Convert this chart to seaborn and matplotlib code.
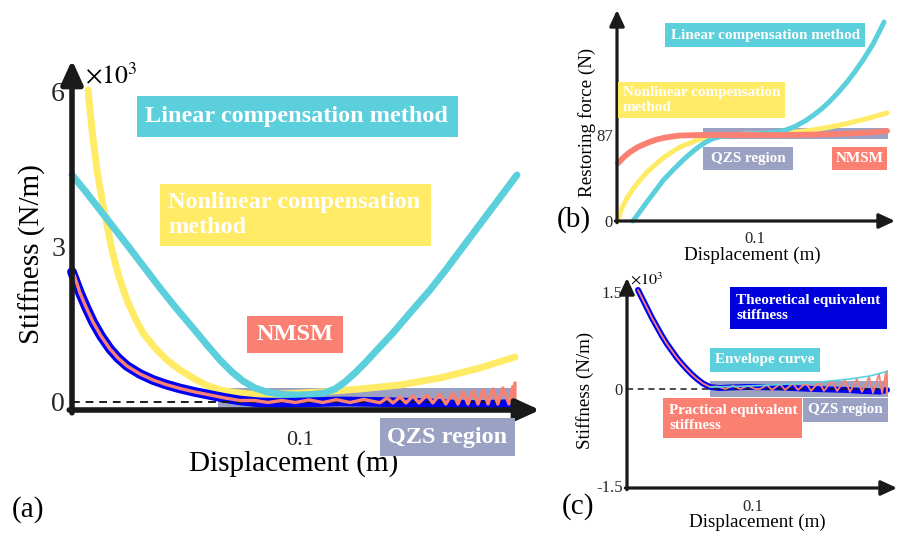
import matplotlib
matplotlib.use("Agg")
import matplotlib.pyplot as plt
import seaborn as sns
from matplotlib.patches import Rectangle

# ---------------- Panel (a): stiffness (x1e3 N/m) vs displacement (m)
a_lin_x = [0.0, 0.00614, 0.01228, 0.01842, 0.02456, 0.03158, 0.03860, 0.04561, 0.05307, 0.05921,
           0.06491, 0.07018, 0.07500, 0.08026, 0.08553, 0.09211, 0.09868, 0.10526, 0.11053,
           0.11535, 0.11974, 0.12412, 0.12851, 0.13421, 0.14079, 0.14825, 0.15702, 0.16360,
           0.17018, 0.17675, 0.18333, 0.18991, 0.19518]
a_lin_y = [4.391, 4.062, 3.714, 3.366, 3.017, 2.611, 2.205, 1.818, 1.431, 1.103,
           0.812, 0.580, 0.406, 0.271, 0.193, 0.145, 0.135, 0.145, 0.174,
           0.251, 0.387, 0.561, 0.754, 1.025, 1.335, 1.721, 2.166, 2.534,
           2.921, 3.308, 3.694, 4.081, 4.391]

a_nonlin_x = [0.00702, 0.00877, 0.01096, 0.01360, 0.01754, 0.02061, 0.02412, 0.02763, 0.03114,
              0.03640, 0.04167, 0.04737, 0.05307, 0.05877, 0.06491, 0.07149, 0.07807, 0.09123,
              0.10877, 0.12632, 0.14386, 0.16140, 0.17895, 0.19430]
a_nonlin_y = [6.035, 5.261, 4.487, 3.810, 2.940, 2.418, 1.973, 1.625, 1.335,
              1.044, 0.812, 0.619, 0.464, 0.329, 0.232, 0.184, 0.155, 0.155,
              0.193, 0.251, 0.329, 0.464, 0.658, 0.870]

a_theo_x = [0.0, 0.00351, 0.00614, 0.00921, 0.01272, 0.01667, 0.02018, 0.02412, 0.02982,
            0.03553, 0.04123, 0.04737, 0.05395, 0.06053, 0.06711, 0.07368, 0.08246, 0.09123,
            0.1, 0.11754, 0.13509, 0.15263, 0.16579, 0.17895, 0.1943]
a_theo_y = [2.515, 2.108, 1.838, 1.547, 1.277, 1.025, 0.851, 0.696, 0.542,
            0.426, 0.338, 0.261, 0.193, 0.135, 0.077, 0.029, -0.010, -0.019,
            -0.010, 0.010, 0.0, -0.019, -0.048, -0.058, -0.039]

a_prac_x = [0.001, 0.00351, 0.00614, 0.00921, 0.01272, 0.01667, 0.02018, 0.02412, 0.02982,
            0.03553, 0.04123, 0.04737, 0.05395, 0.06053, 0.06711, 0.07368,
            0.080, 0.086, 0.092, 0.098, 0.104, 0.110, 0.116, 0.122, 0.128, 0.1351,
            0.1382, 0.1408, 0.1439, 0.1465, 0.1496, 0.1522, 0.1557, 0.1583, 0.1614, 0.1640,
            0.1671, 0.1693, 0.1715, 0.1737, 0.1759, 0.1781, 0.1803, 0.1825, 0.1846, 0.1868,
            0.1890, 0.1917, 0.1934, 0.1943, 0.1943]
a_prac_y = [2.45, 2.108, 1.838, 1.547, 1.277, 1.025, 0.851, 0.696, 0.542,
            0.426, 0.338, 0.261, 0.193, 0.135, 0.077, 0.029,
            0.03, -0.01, 0.03, -0.01, 0.04, -0.01, 0.045, -0.01, 0.05, -0.015,
            0.077, -0.019, 0.097, -0.019, 0.116, -0.019, 0.135, -0.019, 0.155, -0.039,
            0.174, -0.039, 0.193, -0.039, 0.213, -0.039, 0.232, -0.039, 0.251, -0.039,
            0.271, -0.039, 0.30, -0.039, 0.368]

# ---------------- Panel (b): restoring force (N) vs displacement (m)
b_nmsm_x = [0.00072, 0.00507, 0.00942, 0.01522, 0.02174, 0.02754, 0.03333, 0.03986, 0.04565,
            0.06014, 0.07464, 0.11812, 0.1471, 0.16884, 0.18333, 0.19565]
b_nmsm_y = [58.67, 64.74, 69.80, 74.86, 78.91, 81.94, 83.97, 85.48, 86.49,
            87.0, 87.0, 87.0, 87.51, 88.52, 89.53, 91.05]

b_nonlin_x = [0.00072, 0.00217, 0.00435, 0.00725, 0.01159, 0.01667, 0.02174, 0.02754, 0.03333,
              0.03986, 0.04565, 0.0529, 0.05797, 0.06377, 0.06957, 0.08188, 0.0942, 0.11812,
              0.13261, 0.14203, 0.15435, 0.16667, 0.18116, 0.19565]
b_nonlin_y = [0.0, 8.09, 15.17, 23.27, 32.37, 41.48, 49.57, 56.65, 63.73,
              69.80, 74.86, 78.91, 81.94, 83.97, 85.99, 87.0, 88.01, 89.02,
              90.54, 92.06, 95.09, 98.63, 103.69, 109.26]

b_lin_x = [0.01159, 0.01667, 0.02246, 0.02826, 0.03333, 0.03986, 0.04565, 0.05145, 0.05797,
           0.06377, 0.06957, 0.07609, 0.08188, 0.09275, 0.1058, 0.11449, 0.12174, 0.12899,
           0.13623, 0.14203, 0.14855, 0.15435, 0.16014, 0.16667, 0.17246, 0.17826, 0.18551,
           0.19348]
b_lin_y = [0.0, 9.61, 20.74, 31.36, 40.97, 50.58, 58.67, 66.26, 73.85,
           79.41, 83.46, 85.69, 86.80, 87.81, 88.72, 89.73, 91.75, 95.60,
           101.16, 106.73, 113.81, 121.40, 130.00, 140.62, 151.24, 162.87, 179.06,
           201.31]

# ---------------- Panel (c): stiffness (x1e3 N/m) vs displacement (m)
c_theo_x = [0.00873, 0.0119, 0.01587, 0.01984, 0.02381, 0.02778, 0.03175, 0.03571, 0.03968,
            0.04365, 0.04762, 0.05159, 0.05556, 0.06032, 0.06587, 0.07381, 0.08175, 0.09524,
            0.12143, 0.14762, 0.1746, 0.1873, 0.20079, 0.20635]
c_theo_y = [1.531, 1.407, 1.253, 1.098, 0.959, 0.820, 0.696, 0.588, 0.479,
            0.387, 0.302, 0.224, 0.155, 0.085, 0.031, 0.015, 0.023, 0.031,
            0.023, 0.0, -0.015, -0.031, -0.039, -0.015]

c_env_x = [0.0659, 0.0976, 0.1294, 0.1532, 0.1770, 0.1929, 0.2063]
c_env_y = [0.03, 0.046, 0.077, 0.108, 0.155, 0.201, 0.270]

c_prac_x = [0.00873, 0.0119, 0.01587, 0.01984, 0.02381, 0.02778, 0.03175, 0.03571, 0.03968,
            0.04365, 0.04762, 0.05159, 0.05556, 0.06032, 0.06587,
            0.072, 0.078, 0.084, 0.090, 0.096, 0.1015,
            0.1056, 0.1111, 0.1151, 0.1214, 0.1254, 0.1317, 0.1357, 0.1421, 0.1460, 0.1524,
            0.1563, 0.1627, 0.1667, 0.1730, 0.1770, 0.1825, 0.1865, 0.1921, 0.1952, 0.2000,
            0.2024, 0.2056, 0.2063, 0.2063]
c_prac_y = [1.531, 1.407, 1.253, 1.098, 0.959, 0.820, 0.696, 0.588, 0.479,
            0.387, 0.302, 0.224, 0.155, 0.085, 0.031,
            0.04, 0.0, 0.05, 0.0, 0.05, 0.0,
            0.0, 0.062, -0.015, 0.077, -0.015, 0.085, -0.015, 0.093, -0.031, 0.108,
            -0.031, 0.124, -0.031, 0.139, -0.046, 0.155, -0.046, 0.186, -0.062, 0.232,
            -0.062, 0.263, -0.08, 0.28]

# ---------------- style
CYAN = "#5BCFDB"
YELLOW = "#FFEB66"
SALMON = "#FA8072"
BLUE = "#0000F5"
QZS = "#9BA1C3"
TBLUE = "#0000DD"

sns.set_theme(style="white")
plt.rcParams["font.family"] = ["Liberation Serif", "DejaVu Serif"]
plt.rcParams["mathtext.fontset"] = "stix"

W, H = 905, 533
fig = plt.figure(figsize=(W / 100, H / 100), dpi=100)


def add_ax(x0, y0, x1, y1):
    return fig.add_axes([x0 / W, 1 - y1 / H, (x1 - x0) / W, (y1 - y0) / H])


def box(x0, y0, x1, y1, color, text, size, align="center", pad=7):
    fig.add_artist(Rectangle((x0 / W, 1 - y1 / H), (x1 - x0) / W, (y1 - y0) / H,
                             transform=fig.transFigure, facecolor=color,
                             edgecolor="none", zorder=5))
    if align == "center":
        tx, ha = (x0 + x1) / 2, "center"
    else:
        tx, ha = x0 + pad, "left"
    fig.text(tx / W, 1 - ((y0 + y1) / 2) / H, text, ha=ha, va="center",
             color="white", fontsize=size, fontweight="bold", linespacing=1.28,
             zorder=6)


def ftext(x, y, s, size, rot=0, ha="center", va="center"):
    fig.text(x / W, 1 - y / H, s, fontsize=size, rotation=rot, ha=ha, va=va,
             color="black")


def arrows(ax, lw, ms, hl, hw, ex, ey):
    ap = dict(arrowstyle=f"-|>,head_length={hl},head_width={hw}", lw=lw,
              color="k", shrinkA=0, shrinkB=0, mutation_scale=ms)
    ax.annotate("", xy=(0, 1), xytext=(0, -ey), xycoords="axes fraction",
                arrowprops=ap, annotation_clip=False, zorder=20)
    ax.annotate("", xy=(1, 0), xytext=(-ex, 0), xycoords="axes fraction",
                arrowprops=ap, annotation_clip=False, zorder=20)


def clean(ax):
    for s in ax.spines.values():
        s.set_visible(False)
    ax.set_facecolor("none")
    ax.tick_params(length=0)
    ax.grid(False)


def line(ax, x, y, color, lw, z):
    sns.lineplot(x=x, y=y, ax=ax, color=color, linewidth=lw, sort=False,
                 estimator=None, legend=False, zorder=z, clip_on=False)


# ================= Panel (a)
axa = add_ax(72, 60, 540, 410)
clean(axa)
axa.set_xlim(0, 0.2053)
axa.set_ylim(-0.155, 6.615)
axa.add_patch(Rectangle((0.064, -0.116), 0.1303, 0.386, facecolor=QZS,
                        edgecolor="none", zorder=1))
line(axa, a_nonlin_x, a_nonlin_y, YELLOW, 5.0, 2)
line(axa, a_lin_x, a_lin_y, CYAN, 5.0, 3)
line(axa, a_theo_x, a_theo_y, BLUE, 7.0, 4)
axa.plot([0, 0.192], [0, 0], ls=(0, (4, 3)), color="k", lw=1.4, zorder=5)
line(axa, a_prac_x, a_prac_y, SALMON, 2.4, 6)
axa.set_xticks([0.1])
axa.set_xticklabels(["0.1"], fontsize=16)
axa.set_yticks([0, 3, 6])
axa.set_yticklabels(["0", "3", "6"], fontsize=20)
axa.tick_params(axis="x", pad=15)
axa.tick_params(axis="y", pad=5)
axa.set_xlabel("")
axa.set_ylabel("")
arrows(axa, 4.0, 26, 0.55, 0.25, 0.006, 0.008)

ftext(85, 76, r"$\times10^{3}$", 18.5, ha="left")
ftext(294, 464, "Displacement (m)", 21)
ftext(32, 254, "Stiffness (N/m)", 21, rot=90)
ftext(28, 510, "(a)", 21)

box(137, 96, 458, 137, CYAN, "Linear compensation method", 17.5, "left", 8)
box(160, 184, 431, 246, YELLOW, "Nonlinear compensation\nmethod", 17.5, "left", 8)
box(247, 316, 343, 353, SALMON, "NMSM", 17.5)
box(380, 418, 515, 456, QZS, "QZS region", 17.5)

# ================= Panel (b)
axb = add_ax(617, 10, 895, 221)
clean(axb)
axb.set_xlim(0, 0.2014)
axb.set_ylim(0, 213.5)
axb.add_patch(Rectangle((0.0623, 83.0), 0.1341, 11.1, facecolor=QZS,
                        edgecolor="none", zorder=1))
line(axb, b_nonlin_x, b_nonlin_y, YELLOW, 3.6, 2)
line(axb, b_lin_x, b_lin_y, CYAN, 3.6, 3)
line(axb, b_nmsm_x, b_nmsm_y, SALMON, 4.2, 4)
axb.set_xticks([0.1])
axb.set_xticklabels(["0.1"], fontsize=12)
axb.set_yticks([0, 87])
axb.set_yticklabels(["0", "87"], fontsize=12)
axb.tick_params(axis="x", pad=7)
axb.tick_params(axis="y", pad=3)
axb.set_xlabel("")
axb.set_ylabel("")
arrows(axb, 2.3, 16, 0.6, 0.28, 0.006, 0.008)

ftext(752, 255, "Displacement (m)", 13.7)
ftext(587, 122, "Restoring force (N)", 13.7, rot=90)
ftext(574, 220, "(b)", 21)

box(665, 23, 865, 47, CYAN, "Linear compensation method", 10.9, "left", 6)
box(618, 82, 785, 118, YELLOW, "Nonlinear compensation\nmethod", 10.9, "left", 5)
box(703, 147, 793, 170, QZS, "QZS region", 10.9)
box(832, 147, 887, 170, SALMON, "NMSM", 10.9)

# ================= Panel (c)
axc = add_ax(627, 278, 897, 488)
clean(axc)
axc.set_xlim(0, 0.2143)
axc.set_ylim(-1.531, 1.716)
axc.add_patch(Rectangle((0.0659, -0.124), 0.1412, 0.248, facecolor=QZS,
                        edgecolor="none", zorder=1))
line(axc, c_theo_x, c_theo_y, BLUE, 4.3, 2)
axc.plot([0, 0.205], [0, 0], ls=(0, (4, 3)), color="k", lw=1.1, zorder=3)
line(axc, c_prac_x, c_prac_y, SALMON, 1.3, 4)
line(axc, c_env_x, c_env_y, CYAN, 1.2, 5)
axc.set_xticks([0.1])
axc.set_xticklabels(["0.1"], fontsize=12)
axc.set_yticks([-1.5, 0, 1.5])
axc.set_yticklabels(["-1.5", "0", "1.5"], fontsize=12)
axc.tick_params(axis="x", pad=8)
axc.tick_params(axis="y", pad=3)
axc.set_xlabel("")
axc.set_ylabel("")
arrows(axc, 2.3, 16, 0.6, 0.28, 0.006, 0.008)

ftext(630, 280, r"$\times10^{3}$", 11.5, ha="left")
ftext(757, 522, "Displacement (m)", 13.7)
ftext(585, 390, "Stiffness (N/m)", 13.7, rot=90)
ftext(578, 507, "(c)", 21)

box(730, 287, 887, 329, TBLUE, "Theoretical equivalent\nstiffness", 10.9, "left", 6)
box(710, 348, 820, 372, CYAN, "Envelope curve", 10.9)
box(663, 398, 802, 438, SALMON, "Practical equivalent\nstiffness", 10.9, "left", 6)
box(803, 398, 888, 422, QZS, "QZS region", 10.9)

fig.savefig("out.png", dpi=100)
